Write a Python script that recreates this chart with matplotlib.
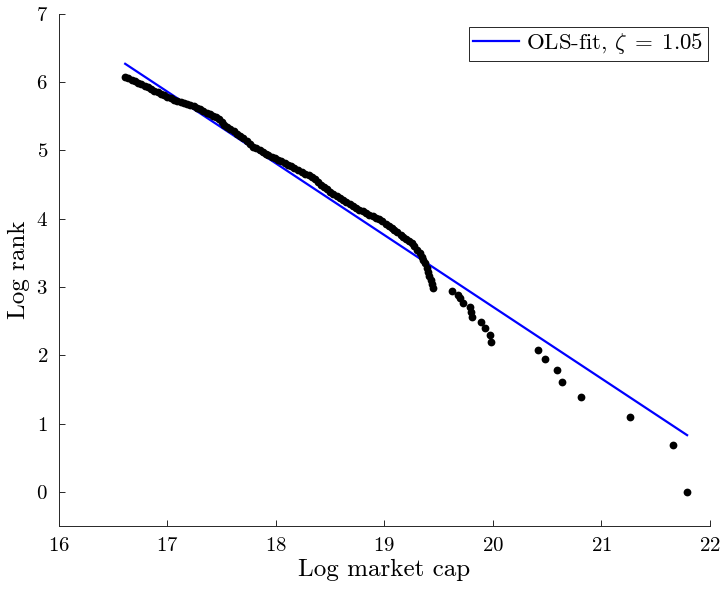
import matplotlib
matplotlib.use("Agg")
import matplotlib.pyplot as plt

plt.rcParams['font.family'] = 'serif'
plt.rcParams['font.serif'] = ['cmr10']
plt.rcParams['mathtext.fontset'] = 'cm'
plt.rcParams['axes.formatter.use_mathtext'] = True
plt.rcParams['axes.unicode_minus'] = False

# dense part of the rank/size curve (ranks ~20..436)
log_cap_dense = [16.61, 16.64, 16.67, 16.70, 16.73, 16.76, 16.79, 16.82, 16.85, 16.88,
                 16.91, 16.94, 16.97, 17.00, 17.03, 17.06, 17.09, 17.12, 17.15, 17.18,
                 17.21, 17.24, 17.27, 17.30, 17.33, 17.36, 17.39, 17.42, 17.45, 17.475,
                 17.50, 17.525, 17.55, 17.58, 17.61, 17.64, 17.67, 17.70, 17.73, 17.76,
                 17.79, 17.82, 17.85, 17.88, 17.91, 17.93, 17.96, 17.99, 18.02, 18.05,
                 18.08, 18.11, 18.14, 18.17, 18.20, 18.24, 18.27, 18.30, 18.33, 18.36,
                 18.39, 18.415, 18.44, 18.47, 18.50, 18.53, 18.56, 18.59, 18.62, 18.65,
                 18.68, 18.71, 18.74, 18.77, 18.80, 18.83, 18.86, 18.89, 18.92, 18.95,
                 18.98, 19.01, 19.04, 19.066, 19.09, 19.12, 19.15, 19.173, 19.20, 19.225,
                 19.251, 19.275, 19.30, 19.327, 19.345, 19.36, 19.373, 19.39, 19.404, 19.415,
                 19.426, 19.438, 19.45]
log_rank_dense = [6.076, 6.055, 6.034, 6.013, 5.993, 5.971, 5.948, 5.925, 5.901, 5.877,
                  5.853, 5.830, 5.809, 5.788, 5.767, 5.746, 5.725, 5.711, 5.697, 5.681,
                  5.666, 5.651, 5.627, 5.603, 5.579, 5.555, 5.531, 5.508, 5.485, 5.462,
                  5.420, 5.380, 5.345, 5.312, 5.278, 5.245, 5.212, 5.179, 5.138, 5.098,
                  5.057, 5.030, 5.004, 4.977, 4.951, 4.934, 4.910, 4.886, 4.862, 4.839,
                  4.815, 4.793, 4.769, 4.744, 4.720, 4.688, 4.661, 4.634, 4.607, 4.580,
                  4.540, 4.500, 4.460, 4.430, 4.395, 4.363, 4.335, 4.307, 4.280, 4.252,
                  4.222, 4.192, 4.163, 4.133, 4.109, 4.085, 4.061, 4.037, 4.013, 3.989,
                  3.965, 3.930, 3.894, 3.861, 3.833, 3.799, 3.764, 3.738, 3.705, 3.673,
                  3.641, 3.595, 3.547, 3.495, 3.440, 3.390, 3.349, 3.285, 3.226, 3.165,
                  3.104, 3.043, 2.982]

# largest firms, ranks 19 down to 1
log_cap_top = [19.62, 19.68, 19.70, 19.72, 19.785, 19.80, 19.81, 19.89, 19.93, 19.97,
               19.98, 20.42, 20.48, 20.59, 20.64, 20.81, 21.26, 21.66, 21.79]
log_rank_top = [2.944, 2.890, 2.833, 2.773, 2.708, 2.639, 2.565, 2.485, 2.398, 2.303,
                2.197, 2.079, 1.946, 1.792, 1.609, 1.386, 1.099, 0.693, 0.0]

zeta = 1.05
intercept = 23.71
fit_x = [16.61, 21.79]

fig = plt.figure(figsize=(7.24, 5.92), dpi=100)
ax = fig.add_axes([0.0815, 0.1115, 0.899, 0.865])

fit_y = [intercept - zeta * x for x in fit_x]
ax.plot(fit_x, fit_y, color='#0000ff', lw=1.6, zorder=2,
        label=r'OLS-fit, $\zeta\;=\;1.05$')
ax.plot(log_cap_dense, log_rank_dense, 'o', color='black', ms=5.6, mew=0, zorder=3)
ax.plot(log_cap_top, log_rank_top, 'o', color='black', ms=5.6, mew=0, zorder=3)

ax.set_xlim(16, 22)
ax.set_ylim(-0.5, 7)
ax.set_xticks(range(16, 23))
ax.set_yticks(range(0, 8))

for s in ['top', 'right']:
    ax.spines[s].set_visible(False)
for s in ['left', 'bottom']:
    ax.spines[s].set_color('#262626')
    ax.spines[s].set_linewidth(0.7)
ax.tick_params(direction='in', length=4, width=0.7, color='#262626',
               labelsize=15, labelcolor='black', pad=8)

ax.set_xlabel('Log market cap', fontsize=18, labelpad=3)
ax.set_ylabel('Log rank', fontsize=18, labelpad=4)

leg = ax.legend(loc='upper right', bbox_to_anchor=(0.997, 0.975), fontsize=16.5,
                fancybox=False, framealpha=1, edgecolor='#262626', borderaxespad=0,
                handlelength=2.0, handletextpad=0.3, borderpad=0.2)
leg.get_frame().set_linewidth(0.7)

fig.savefig('out.png', dpi=100)
